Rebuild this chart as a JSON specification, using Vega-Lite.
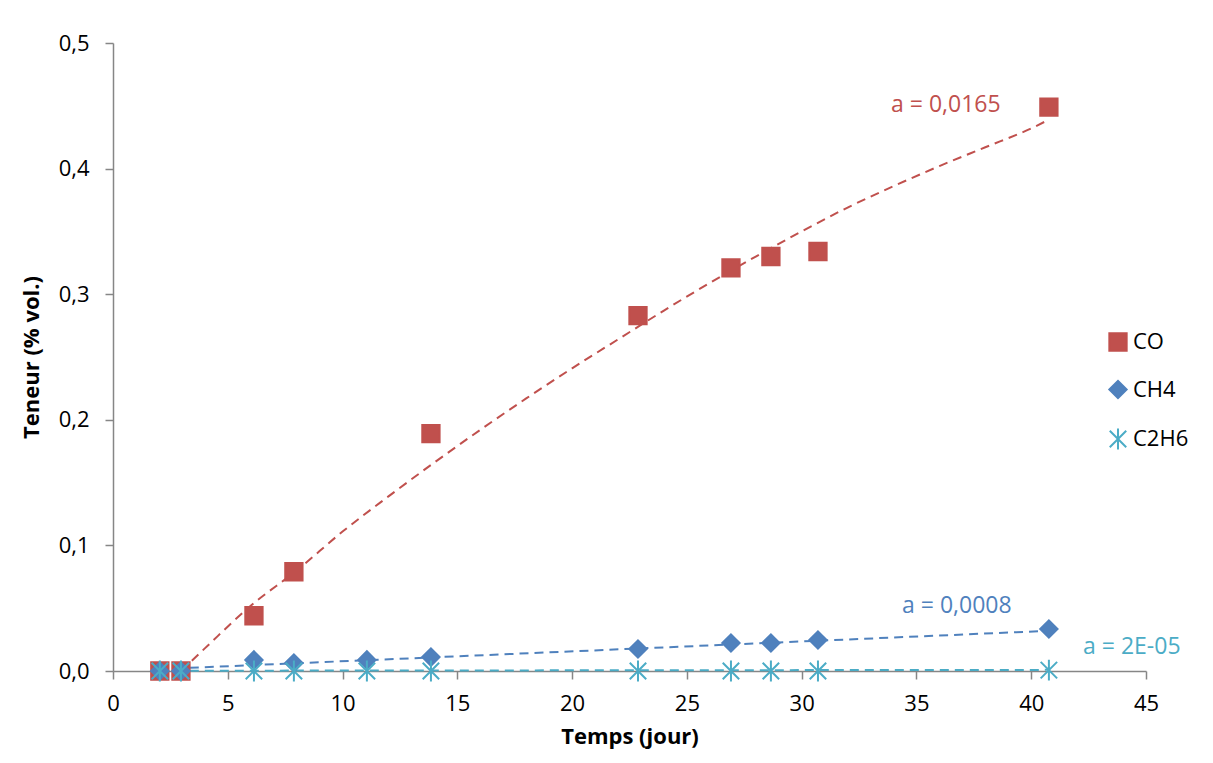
{
  "$schema": "https://vega.github.io/schema/vega-lite/v6.json",
  "width": 1033,
  "height": 628,
  "autosize": {"type": "none"},
  "padding": {"left": 113, "top": 43, "right": 67, "bottom": 92},
  "background": "white",
  "config": {
    "view": {"stroke": null},
    "font": "Open Sans",
    "axis": {
      "domainColor": "#868686",
      "domainWidth": 1.5,
      "tickColor": "#868686",
      "tickWidth": 1.5,
      "tickSize": 8,
      "grid": false,
      "labelFlush": false,
      "labelFont": "Open Sans",
      "labelFontSize": 22,
      "labelColor": "#000000",
      "titleFont": "Open Sans",
      "titleFontSize": 22,
      "titleFontWeight": "bold",
      "titleColor": "#000000"
    }
  },
  "datasets": {
    "points": [
      {"series": "CO", "jour": 2.04, "teneur": 0.0},
      {"series": "CO", "jour": 2.96, "teneur": 0.0},
      {"series": "CO", "jour": 6.14, "teneur": 0.044},
      {"series": "CO", "jour": 7.88, "teneur": 0.079},
      {"series": "CO", "jour": 13.85, "teneur": 0.189},
      {"series": "CO", "jour": 22.87, "teneur": 0.283},
      {"series": "CO", "jour": 26.92, "teneur": 0.321},
      {"series": "CO", "jour": 28.66, "teneur": 0.330},
      {"series": "CO", "jour": 30.71, "teneur": 0.334},
      {"series": "CO", "jour": 40.77, "teneur": 0.449},
      {"series": "CH4", "jour": 2.04, "teneur": 0.0},
      {"series": "CH4", "jour": 2.96, "teneur": 0.0},
      {"series": "CH4", "jour": 6.14, "teneur": 0.0088},
      {"series": "CH4", "jour": 7.88, "teneur": 0.0064},
      {"series": "CH4", "jour": 11.06, "teneur": 0.0088},
      {"series": "CH4", "jour": 13.85, "teneur": 0.0111},
      {"series": "CH4", "jour": 22.87, "teneur": 0.0175},
      {"series": "CH4", "jour": 26.92, "teneur": 0.0223},
      {"series": "CH4", "jour": 28.66, "teneur": 0.0223},
      {"series": "CH4", "jour": 30.71, "teneur": 0.0247},
      {"series": "CH4", "jour": 40.77, "teneur": 0.0334},
      {"series": "C2H6", "jour": 2.04, "teneur": 0.0},
      {"series": "C2H6", "jour": 2.96, "teneur": 0.0},
      {"series": "C2H6", "jour": 6.14, "teneur": 0.0},
      {"series": "C2H6", "jour": 7.88, "teneur": 0.0},
      {"series": "C2H6", "jour": 11.06, "teneur": 0.0},
      {"series": "C2H6", "jour": 13.85, "teneur": 0.0},
      {"series": "C2H6", "jour": 22.87, "teneur": 0.0},
      {"series": "C2H6", "jour": 26.92, "teneur": 0.0},
      {"series": "C2H6", "jour": 28.66, "teneur": 0.0},
      {"series": "C2H6", "jour": 30.71, "teneur": 0.0},
      {"series": "C2H6", "jour": 40.77, "teneur": 0.0007}
    ],
    "trend": [
      {"series": "CO", "jour": 2.96, "teneur": 0.0},
      {"series": "CO", "jour": 4, "teneur": 0.018},
      {"series": "CO", "jour": 6, "teneur": 0.052},
      {"series": "CO", "jour": 8, "teneur": 0.080},
      {"series": "CO", "jour": 10, "teneur": 0.111},
      {"series": "CO", "jour": 12, "teneur": 0.139},
      {"series": "CO", "jour": 14, "teneur": 0.166},
      {"series": "CO", "jour": 16, "teneur": 0.192},
      {"series": "CO", "jour": 18, "teneur": 0.217},
      {"series": "CO", "jour": 20, "teneur": 0.241},
      {"series": "CO", "jour": 22, "teneur": 0.264},
      {"series": "CO", "jour": 24, "teneur": 0.287},
      {"series": "CO", "jour": 26, "teneur": 0.309},
      {"series": "CO", "jour": 28, "teneur": 0.330},
      {"series": "CO", "jour": 30, "teneur": 0.350},
      {"series": "CO", "jour": 32, "teneur": 0.369},
      {"series": "CO", "jour": 34, "teneur": 0.386},
      {"series": "CO", "jour": 36, "teneur": 0.402},
      {"series": "CO", "jour": 38, "teneur": 0.417},
      {"series": "CO", "jour": 40, "teneur": 0.432},
      {"series": "CO", "jour": 40.77, "teneur": 0.439},
      {"series": "CH4", "jour": 2.04, "teneur": 0.0015},
      {"series": "CH4", "jour": 40.77, "teneur": 0.032},
      {"series": "C2H6", "jour": 2.04, "teneur": 0.0002},
      {"series": "C2H6", "jour": 40.77, "teneur": 0.0009}
    ],
    "labels": [
      {"series": "CO", "jour": 36.28, "teneur": 0.451, "text": "a = 0,0165"},
      {"series": "CH4", "jour": 36.76, "teneur": 0.0518, "text": "a = 0,0008"},
      {"series": "C2H6", "jour": 44.38, "teneur": 0.019, "text": "a = 2E-05"}
    ]
  },
  "encoding": {
    "x": {"field": "jour", "type": "quantitative", "scale": {"domain": [0, 45], "nice": false},
      "axis": {"title": "Temps (jour)", "values": [0, 5, 10, 15, 20, 25, 30, 35, 40, 45], "labelPadding": 14, "titlePadding": 12}},
    "y": {"field": "teneur", "type": "quantitative", "scale": {"domain": [0, 0.5], "nice": false},
      "axis": {"title": "Teneur (% vol.)", "values": [0, 0.1, 0.2, 0.3, 0.4, 0.5], "labelExpr": "replace(format(datum.value, '.1f'), '.', ',')", "labelPadding": 16, "titlePadding": 15}}
  },
  "layer": [
    {
      "data": {"name": "trend"},
      "transform": [{"filter": "datum.series === 'CO'"}],
      "mark": {"type": "line", "strokeWidth": 2, "strokeDash": [9, 6], "interpolate": "monotone", "color": "#C0504D"}
    },
    {
      "data": {"name": "trend"},
      "transform": [{"filter": "datum.series === 'CH4'"}],
      "mark": {"type": "line", "strokeWidth": 2, "strokeDash": [9, 6], "color": "#4F81BD"}
    },
    {
      "data": {"name": "trend"},
      "transform": [{"filter": "datum.series === 'C2H6'"}],
      "mark": {"type": "line", "strokeWidth": 2, "strokeDash": [9, 6], "color": "#4BACC6"}
    },
    {
      "data": {"name": "points"},
      "mark": {"type": "point", "filled": true, "opacity": 1, "strokeWidth": 2},
      "encoding": {
        "shape": {"field": "series", "type": "nominal",
          "scale": {"domain": ["CO", "CH4", "C2H6"], "range": ["square", "diamond", "M-0.95,-0.95L0.95,0.95M-0.95,0.95L0.95,-0.95M0,-1.2L0,1.2"]},
          "legend": {"title": null, "orient": "none", "legendX": 994, "legendY": 288, "labelFontSize": 22, "labelFont": "Open Sans", "labelColor": "#000000", "symbolSize": 300, "symbolStrokeWidth": 2, "rowPadding": 21.5, "labelOffset": 4}},
        "fill": {"field": "series", "type": "nominal",
          "scale": {"domain": ["CO", "CH4", "C2H6"], "range": ["#C0504D", "#4F81BD", "transparent"]}},
        "stroke": {"field": "series", "type": "nominal",
          "scale": {"domain": ["CO", "CH4", "C2H6"], "range": ["#C0504D", "#4F81BD", "#4BACC6"]}},
        "size": {"value": 300}
      }
    },
    {
      "data": {"name": "labels"},
      "transform": [{"filter": "datum.series === 'CO'"}],
      "mark": {"type": "text", "fontSize": 23, "font": "Open Sans", "align": "center", "baseline": "middle", "color": "#C0504D"},
      "encoding": {"text": {"field": "text"}}
    },
    {
      "data": {"name": "labels"},
      "transform": [{"filter": "datum.series === 'CH4'"}],
      "mark": {"type": "text", "fontSize": 23, "font": "Open Sans", "align": "center", "baseline": "middle", "color": "#4F81BD"},
      "encoding": {"text": {"field": "text"}}
    },
    {
      "data": {"name": "labels"},
      "transform": [{"filter": "datum.series === 'C2H6'"}],
      "mark": {"type": "text", "fontSize": 23, "font": "Open Sans", "align": "center", "baseline": "middle", "color": "#4BACC6"},
      "encoding": {"text": {"field": "text"}}
    }
  ]
}
